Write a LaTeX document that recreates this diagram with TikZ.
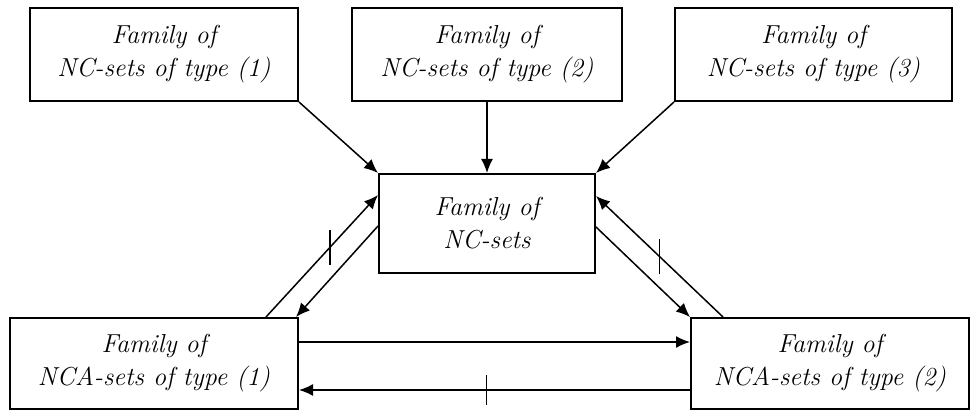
\documentclass[tikz,border=0pt]{standalone}
\usetikzlibrary{arrows.meta}

\begin{document}
\begin{tikzpicture}[x=1pt,y=1pt]
	\tikzstyle{every node}=[font=\fontsize{26}{33}\selectfont\itshape,align=center]
	\tikzstyle{famblock}=[draw,line width=2pt,inner sep=0pt,minimum height=93pt]
	\tikzstyle{link}=[line width=1.5pt,-{Latex[length=14pt,width=12pt]}]
	\tikzstyle{cut}=[line width=1.5pt]
	\useasboundingbox (0,0) rectangle (972,410);

	\node[famblock,minimum width=268pt] (nc1) at (164,355.5) {Family of\\NC-sets of type (1)};
	\node[famblock,minimum width=270pt] (nc2) at (487,355.5) {Family of\\NC-sets of type (2)};
	\node[famblock,minimum width=277pt] (nc3) at (813.5,355.5) {Family of\\NC-sets of type (3)};
	\node[famblock,minimum width=216pt,minimum height=99pt] (nc) at (487,186.5) {Family of\\NC-sets};
	\node[famblock,minimum width=288pt,minimum height=91pt] (nca1) at (154,46.5) {Family of\\NCA-sets of type (1)};
	\node[famblock,minimum width=278pt,minimum height=91pt] (nca2) at (830,46.5) {Family of\\NCA-sets of type (2)};

	\draw[link] (nc1.south east) -- (nc.north west);
	\draw[link] (nc2.south) -- (nc.north);
	\draw[link] (nc3.south west) -- (nc.north east);

	\draw[link] ([xshift=-33pt]nca1.north east) -- coordinate[pos=0.57] (t1) ([yshift=-22pt]nc.north west);
	\draw[link] ([yshift=-53pt]nc.north west) -- ([xshift=-3pt]nca1.north east);
	\draw[link] ([yshift=-54pt]nc.north east) -- (nca2.north west);
	\draw[link] ([xshift=33pt]nca2.north west) -- coordinate[pos=0.5] (t2) ([yshift=-23pt]nc.north east);

	\draw[link] ([yshift=-25pt]nca1.north east) -- ([yshift=-25pt]nca2.north west);
	\draw[link] ([yshift=-73pt]nca2.north west) -- coordinate[pos=0.52] (t3) ([yshift=-73pt]nca1.north east);

	\draw[cut] ([yshift=17.5pt]t1) -- ([yshift=-17.5pt]t1);
	\draw[cut] ([yshift=17.5pt]t2) -- ([yshift=-17.5pt]t2);
	\draw[cut] ([yshift=15pt]t3) -- ([yshift=-15pt]t3);
\end{tikzpicture}
\end{document}
